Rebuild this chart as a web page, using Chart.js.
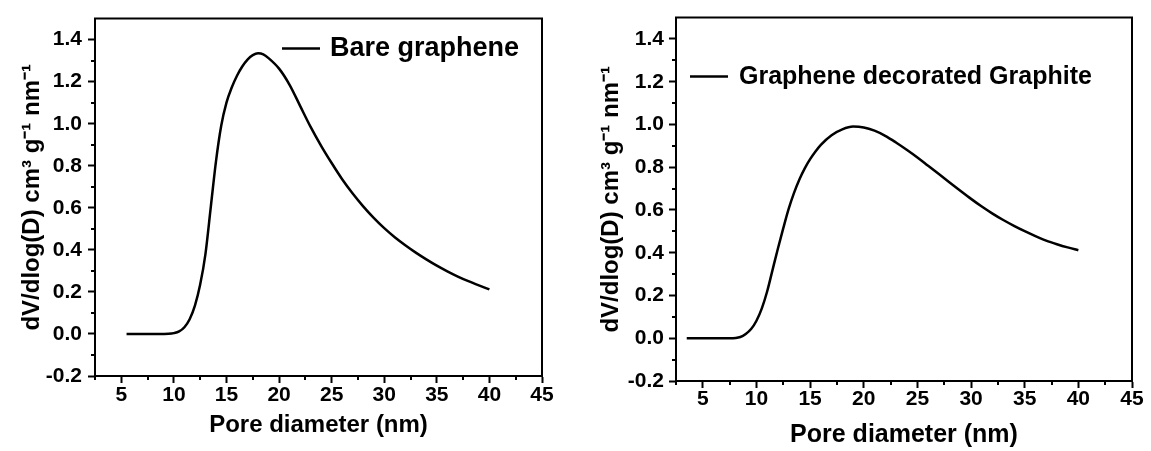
<!DOCTYPE html>
<html><head><meta charset="utf-8">
<script src="https://cdn.jsdelivr.net/npm/chart.js@4.4.1/dist/chart.umd.min.js"></script>
<style>
html,body{margin:0;padding:0;background:#fff;width:1151px;height:451px;overflow:hidden}
canvas{position:absolute;top:0}
#c1{left:0}
#c2{left:575px}
</style></head><body>
<canvas id="c1" width="575" height="451"></canvas>
<canvas id="c2" width="576" height="451"></canvas>
<script>
// ---- data ----
const diameterBare = [5.5, 7, 8.5, 9.5, 10, 10.5, 11, 11.5, 12, 12.5, 13, 13.5, 14, 14.5, 15, 15.5, 16, 16.5, 17, 17.5, 18, 18.5, 19, 20, 21, 22, 23, 24, 25, 26, 27, 28, 29, 30, 31, 32, 33, 34, 35, 36, 37, 38, 39, 40];
const volumeBare = [0, 0, 0, 0.001, 0.004, 0.012, 0.032, 0.07, 0.135, 0.235, 0.38, 0.6, 0.82, 0.99, 1.1, 1.172, 1.228, 1.272, 1.305, 1.326, 1.335, 1.33, 1.312, 1.262, 1.185, 1.085, 0.985, 0.895, 0.813, 0.736, 0.668, 0.607, 0.552, 0.503, 0.46, 0.422, 0.387, 0.355, 0.325, 0.298, 0.273, 0.251, 0.231, 0.212];

const diameterGD = [3.5, 6, 7.5, 8.5, 9, 9.5, 10, 10.5, 11, 11.5, 12, 12.5, 13, 13.5, 14, 14.5, 15, 15.5, 16, 17, 18, 19, 20, 21, 22, 23, 24, 25, 26, 27, 28, 29, 30, 31, 32, 33, 34, 35, 36, 37, 38, 39, 40];
const volumeGD = [0, 0, 0, 0.006, 0.02, 0.043, 0.082, 0.14, 0.22, 0.32, 0.42, 0.515, 0.605, 0.68, 0.743, 0.795, 0.838, 0.874, 0.905, 0.95, 0.977, 0.99, 0.986, 0.971, 0.947, 0.916, 0.882, 0.846, 0.807, 0.768, 0.729, 0.69, 0.652, 0.616, 0.583, 0.553, 0.526, 0.501, 0.478, 0.457, 0.44, 0.425, 0.412];

const labelBare = 'Bare graphene';
const labelGD = 'Graphene decorated Graphite';
const xTitleText = 'Pore diameter (nm)';
const yTitleText = 'dV/dlog(D) cm³ g⁻¹ nm⁻¹';

const xTickValues = [5, 10, 15, 20, 25, 30, 35, 40, 45];
const yTickValues = [-0.2, 0, 0.2, 0.4, 0.6, 0.8, 1.0, 1.2, 1.4];
const xMinorValues = [2.5, 7.5, 12.5, 17.5, 22.5, 27.5, 32.5, 37.5, 42.5];
const yMinorValues = [-0.1, 0.1, 0.3, 0.5, 0.7, 0.9, 1.1, 1.3];

const FONT = "'Liberation Sans', Arial, Helvetica, sans-serif";

const framePlugin = {
  id: 'frame',
  afterDraw(chart, args, o) {
    const {ctx, chartArea: a, scales: {x, y}} = chart;
    ctx.save();
    ctx.strokeStyle = '#000';
    ctx.lineWidth = 2;
    ctx.beginPath();
    ctx.moveTo(a.left - 1, a.top);
    ctx.lineTo(a.right, a.top);
    ctx.lineTo(a.right, a.bottom + 1);
    ctx.stroke();
    ctx.beginPath();
    xMinorValues.forEach(v => {
      const px = Math.round(x.getPixelForValue(v));
      ctx.moveTo(px, a.bottom); ctx.lineTo(px, a.bottom + o.minorLen);
    });
    yMinorValues.forEach(v => {
      const py = Math.round(y.getPixelForValue(v));
      ctx.moveTo(a.left, py); ctx.lineTo(a.left - o.minorLen, py);
    });
    ctx.stroke();
    // legend
    const ds = chart.data.datasets[0];
    ctx.strokeStyle = ds.borderColor;
    ctx.lineWidth = 2.5;
    ctx.beginPath();
    ctx.moveTo(a.left + o.lx1, a.top + o.ly);
    ctx.lineTo(a.left + o.lx2, a.top + o.ly);
    ctx.stroke();
    ctx.fillStyle = '#000';
    ctx.font = 'bold ' + o.fontSize + 'px ' + FONT;
    ctx.textBaseline = 'alphabetic';
    ctx.textAlign = 'left';
    ctx.fillText(ds.label, a.left + o.tx, a.top + o.ty);
    ctx.restore();
  }
};

function makeChart(id, xs, ys, label, cfg) {
  const pts = xs.map((v, i) => ({x: v, y: ys[i]}));
  return new Chart(document.getElementById(id), {
    type: 'line',
    data: {datasets: [{
      label: label, data: pts, borderColor: '#000', borderWidth: 2.5,
      pointRadius: 0, tension: 0.4, cubicInterpolationMode: 'monotone', fill: false
    }]},
    options: {
      responsive: false, animation: false, events: [],
      layout: {padding: cfg.padding},
      plugins: {legend: {display: false}, tooltip: {enabled: false}, frame: cfg.frame},
      scales: {
        x: {
          type: 'linear', min: 2.5, max: 45,
          afterBuildTicks: s => { s.ticks = xTickValues.map(v => ({value: v})); },
          afterFit: s => { s.height = cfg.xHeight; },
          grid: {drawOnChartArea: false, drawTicks: true, tickLength: 7, tickWidth: 2, tickColor: '#000'},
          border: {display: true, color: '#000', width: 2},
          ticks: {color: '#000', padding: cfg.xTickPad, maxRotation: 0, autoSkip: false,
                  font: {family: FONT, size: 21, weight: 'bold'}, callback: v => String(v)},
          title: {display: true, text: xTitleText, color: '#000',
                  font: {family: FONT, size: cfg.titleSize, weight: 'bold'},
                  padding: {top: 0, bottom: cfg.xTitlePad}}
        },
        y: {
          type: 'linear', min: -0.2, max: 1.5,
          afterBuildTicks: s => { s.ticks = yTickValues.map(v => ({value: v})); },
          afterFit: s => { s.width = cfg.yWidth; },
          grid: {drawOnChartArea: false, drawTicks: true, tickLength: 7, tickWidth: 2, tickColor: '#000'},
          border: {display: true, color: '#000', width: 2},
          ticks: {color: '#000', padding: cfg.yTickPad, autoSkip: false,
                  font: {family: FONT, size: 21, weight: 'bold'}, callback: v => Number(v).toFixed(1)},
          title: {display: true, text: yTitleText, color: '#000',
                  font: {family: FONT, size: 24, weight: 'bold'},
                  padding: {top: cfg.yTitlePad, bottom: 0}}
        }
      }
    },
    plugins: [framePlugin]
  });
}

makeChart('c1', diameterBare, volumeBare, labelBare, {
  padding: {top: 16, right: 33, bottom: 0, left: 0},
  yWidth: 95, xHeight: 75, xTickPad: 0, yTickPad: 6, xTitlePad: 11, yTitlePad: 18, titleSize: 24,
  frame: {minorLen: 4, lx1: 187, lx2: 225, ly: 30, tx: 235, ty: 37, fontSize: 27}
});
makeChart('c2', diameterGD, volumeGD, labelGD, {
  padding: {top: 14, right: 19, bottom: 0, left: 0},
  yWidth: 101, xHeight: 70, xTickPad: -1, yTickPad: 5, xTitlePad: 1, yTitlePad: 22, titleSize: 25,
  frame: {minorLen: 4, lx1: 14, lx2: 52, ly: 59, tx: 63, ty: 66, fontSize: 25}
});
</script>
</body></html>
